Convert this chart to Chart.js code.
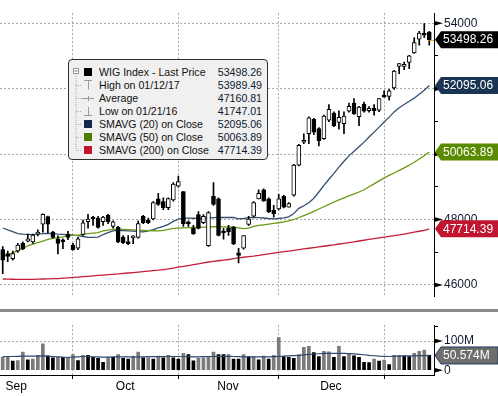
<!DOCTYPE html>
<html lang="en">
<head>
<meta charset="UTF-8" />
<title>WIG Index - Last Price</title>
<script src="https://cdn.jsdelivr.net/npm/chart.js"></script>
<style>
  html, body { margin: 0; padding: 0; background: #fff; }
  #wrap { position: relative; width: 498px; height: 396px; overflow: hidden; background: #fff; font-family: 'Liberation Sans', Arial, sans-serif; }
  #priceChart { position: absolute; left: 0; top: 0; }
  #volChart { position: absolute; left: 0; top: 312px; }
  #sep { position: absolute; left: 0; top: 309px; width: 498px; height: 3px; background: #8c8c8c; }
  #legend { position: absolute; left: 68px; top: 59px; width: 198px; height: 99px; background: #f0f0f0; border: 1px solid #2e2e2e; border-radius: 4px; }
  #legend svg { position: absolute; left: 0; top: 0; }
  .lname, .lval { position: absolute; height: 13px; line-height: 13px; font-size: 10.6px; white-space: nowrap; }
  .lname { left: 30px; color: #111; }
  .lval { right: 5px; color: #0d1a30; }
  .sw { position: absolute; left: 15px; width: 8px; height: 8px; }
</style>
</head>
<body>
<div id="wrap">
  <canvas id="priceChart" width="498" height="310"></canvas>
  <div id="sep"></div>
  <canvas id="volChart" width="498" height="84"></canvas>

  <div id="legend">
    <svg width="198" height="99">
      <rect x="4.5" y="8.5" width="5" height="5" fill="#fff" stroke="#9a9a9a" />
      <line x1="5.5" y1="11" x2="8.5" y2="11" stroke="#777" />
      <line x1="7" y1="14" x2="7" y2="90" stroke="#aaa" stroke-dasharray="1,1" />
      <line x1="7" y1="25.5" x2="13" y2="25.5" stroke="#aaa" stroke-dasharray="1,1" />
      <line x1="7" y1="38.5" x2="13" y2="38.5" stroke="#aaa" stroke-dasharray="1,1" />
      <line x1="7" y1="51.5" x2="13" y2="51.5" stroke="#aaa" stroke-dasharray="1,1" />
      <line x1="7" y1="64.5" x2="13" y2="64.5" stroke="#aaa" stroke-dasharray="1,1" />
      <line x1="7" y1="77.5" x2="13" y2="77.5" stroke="#aaa" stroke-dasharray="1,1" />
      <line x1="7" y1="90.5" x2="13" y2="90.5" stroke="#aaa" stroke-dasharray="1,1" />
      <!-- high / average / low icons -->
      <line x1="15" y1="20.5" x2="23" y2="20.5" stroke="#9a9a9a" />
      <line x1="19.5" y1="20.5" x2="19.5" y2="29.5" stroke="#9a9a9a" />
      <line x1="13" y1="38.5" x2="25" y2="38.5" stroke="#9a9a9a" />
      <line x1="19.5" y1="36" x2="19.5" y2="41" stroke="#9a9a9a" />
      <line x1="19.5" y1="47" x2="19.5" y2="55.5" stroke="#9a9a9a" />
      <line x1="15" y1="55.5" x2="23" y2="55.5" stroke="#9a9a9a" />
    </svg>
    <div class="sw" style="top:8px;background:#000"></div>
    <div class="sw" style="top:60px;background:#13294b"></div>
    <div class="sw" style="top:73px;background:#4d7d00"></div>
    <div class="sw" style="top:86px;background:#c0162f"></div>

    <div class="lname" style="top:5.5px">WIG Index - Last Price</div><div class="lval" style="top:5.5px">53498.26</div>
    <div class="lname" style="top:18.5px">High on 01/12/17</div><div class="lval" style="top:18.5px">53989.49</div>
    <div class="lname" style="top:31.5px">Average</div><div class="lval" style="top:31.5px">47160.81</div>
    <div class="lname" style="top:44.5px">Low on 01/21/16</div><div class="lval" style="top:44.5px">41747.01</div>
    <div class="lname" style="top:57.5px">SMAVG (20) on Close</div><div class="lval" style="top:57.5px">52095.06</div>
    <div class="lname" style="top:70.5px">SMAVG (50) on Close</div><div class="lval" style="top:70.5px">50063.89</div>
    <div class="lname" style="top:83.5px">SMAVG (200) on Close</div><div class="lval" style="top:83.5px">47714.39</div>
  </div>
</div>

<script>
  // --- data (one value per trading day) ---
  const priceOpen = [47080,46960,46800,47035,47270,47335,47315,47550,47855,48090,
    47615,47405,47340,47545,47220,47125,47540,47930,48070,48040,
    47930,48125,47790,47760,47455,47315,47440,47455,48100,47985,
    48015,48630,48550,48360,48600,49020,48850,47900,47730,48150,
    47900,47200,48710,48630,47620,47730,47760,46980,47120,47850,
    48100,48630,48910,48630,48290,48320,48710,48380,48740,49660,
    50360,50620,51060,50780,50470,51040,51250,50970,50930,51310,
    51560,51140,51530,51330,51400,51340,51790,51760,52020,52680,
    52680,52800,53095,53515,53700,53730];
  const priceHigh = [47175,47035,47035,47270,47315,47550,47550,47680,48175,48105,
    47640,47500,47405,47640,47270,47455,47985,48155,48100,48100,
    48100,48155,47960,47790,47510,47510,47510,47960,48125,48040,
    48545,48800,48660,48660,49130,49330,48850,47960,47820,48240,
    48150,48240,49130,48660,47730,47820,47790,47120,47510,48100,
    48550,48910,48940,48660,48430,48770,48740,48520,49690,50300,
    50620,51140,51090,50810,51190,51510,51290,51320,51290,51560,
    51700,51460,51590,51450,51510,51700,51930,51980,52560,52770,
    52815,53020,53560,53750,53989.49,53750];
  const priceLow = [46340,46710,46755,46990,47080,47315,47270,47500,47615,47595,
    47425,46945,47110,47380,47060,47080,47510,47735,47820,47735,
    47820,47875,47735,47290,47260,47230,47260,47425,47875,47875,
    47985,48430,48300,48300,48560,48990,47790,47790,47540,47710,
    47870,47180,48430,47500,47400,47510,47230,46670,47090,47820,
    48070,48630,48550,48210,48070,48290,48350,48380,48710,49640,
    50320,50320,50590,50250,50450,50990,50840,50760,50620,51280,
    51210,50870,51280,51280,51190,51300,51740,51650,51980,52460,
    52580,52610,53075,53330,53560,53330];
  const priceClose = [46755,46870,46960,47220,47110,47405,47520,47615,48155,47855,
    47455,47270,47320,47455,47080,47405,47900,48015,48015,47760,
    48070,47930,47930,47315,47290,47260,47470,47875,47900,47900,
    48520,48460,48360,48640,49080,49160,47870,47870,47570,47730,
    48100,48210,48460,47510,47590,47620,47250,46900,47510,48010,
    48520,48800,48570,48240,48180,48630,48380,48490,49660,50270,
    50380,51110,50670,50410,51160,51370,50860,51120,51160,51460,
    51230,51440,51310,51400,51330,51700,51740,51930,52540,52770,
    52740,53000,53405,53700,53635,53498.26];

  const sma20 = [47740,47680,47630,47570,47550,47545,47540,47550,47565,47575,
    47570,47555,47545,47535,47520,47505,47480,47455,47455,47460,
    47540,47600,47650,47668,47660,47650,47642,47630,47622,47650,
    47690,47740,47790,47850,47940,48010,48040,48040,48037,48035,
    48040,48050,48058,48061,48061,48061,48060,48020,48030,48058,
    48060,48055,48045,48030,48020,48030,48050,48080,48180,48340,
    48420,48510,48650,48840,49040,49230,49410,49600,49780,49945,
    50085,50225,50365,50520,50670,50825,50980,51130,51290,51415,
    51515,51615,51710,51830,51950,52095.06];
  const sma50 = [46880,46920,46980,47050,47115,47190,47245,47295,47340,47390,
    47425,47445,47470,47505,47512,47518,47545,47565,47585,47600,
    47650,47675,47690,47702,47700,47690,47680,47672,47668,47660,
    47655,47650,47670,47700,47725,47735,47742,47748,47755,47760,
    47765,47772,47778,47780,47776,47770,47762,47745,47720,47735,
    47790,47820,47838,47858,47880,47900,47930,47960,48000,48060,
    48120,48180,48250,48320,48390,48460,48535,48600,48660,48720,
    48780,48840,48910,49000,49090,49180,49270,49350,49420,49500,
    49580,49660,49750,49850,49950,50063.89];
  const sma200 = [46180,46175,46172,46170,46168,46168,46170,46175,46180,46185,
    46190,46194,46205,46215,46228,46240,46250,46263,46276,46290,
    46300,46312,46324,46334,46350,46363,46377,46390,46405,46420,
    46437,46450,46470,46490,46515,46540,46565,46590,46618,46645,
    46672,46700,46718,46738,46758,46776,46806,46825,46845,46864,
    46880,46900,46924,46946,46970,46993,47015,47035,47056,47078,
    47100,47120,47140,47160,47182,47205,47225,47250,47272,47295,
    47318,47342,47365,47390,47412,47435,47458,47482,47505,47528,
    47555,47585,47613,47640,47668,47714.39];

  // volume in millions; volUp: 1 = grey bar, 0 = black bar
  const volume = [44,46.5,31,33,62,36,38,51,90,49,
    42.6,44.5,44.5,44.5,54,33,51,51,44.5,40.6,
    27,44.5,44.5,54,40.6,38,48.4,62,42.6,42.6,
    38,48.4,42.6,51,42.6,38,58,54,32,40.6,
    42.6,46.5,62,54,54,54,38,38,54,46.5,
    46.5,36,48.4,38,51,111.7,46.5,44.5,40.6,54,
    78.6,81.5,60,46.5,65,63,44.5,81.5,46.5,58,
    49,44.5,27,26,38,31,35,19,51,51,
    48.4,46.5,58,65,69,51];
  const volUp = [1,1,0,1,1,0,1,1,1,0,
    0,1,0,1,1,0,1,0,0,0,
    0,1,0,1,0,0,1,1,0,1,
    0,1,0,1,0,0,1,0,0,1,
    1,1,1,0,0,1,0,0,1,0,
    1,0,1,0,1,1,0,0,0,1,
    1,1,0,0,1,1,0,1,0,1,
    0,0,0,0,1,0,1,0,1,1,
    0,0,1,1,1,0];
  const volSma = [47,47,47,47.5,48,48,48,48.5,49,48,
    47,46,45,44.5,45,46,47,47,46,45.5,
    45,45,45.5,46,46,45.5,45,45.5,46,46.5,
    46.5,46.5,46.5,47,47,47,47,46.5,46,46,
    46.5,47,47,47.5,47.5,47.5,47,46.5,46,45.5,
    45.5,45.5,46,46,46.5,47,48,49,50,51,
    52.5,54,55.5,56.5,57.5,58,58,58,57.5,57,
    56,54.5,53,51,49.5,48,47.5,47,48,48.5,
    49,49,49.5,50,50.3,50.574];

  // axis ticks
  const monthStarts = [14, 35, 55, 76];           // first trading day of Oct, Nov, Dec, Jan
  const monthLabels = ['Sep', 'Oct', 'Nov', 'Dec'];
  const monthLabelPos = [2.7, 24.4, 44.9, 65.4];
  const priceTicks = [46000, 47000, 48000, 49000, 50000, 51000, 52000, 53000, 54000];
  const volTicks = [0, 50, 100, 150];

  const FONT = "'Liberation Sans', Arial, sans-serif";
  const GRID = '#a8a8a8';
  const X_MIN = -0.54, X_MAX = 85.94;
  const last = priceClose.length - 1;

  function drawTag(ctx, left, y, fill, text, stroke) {
    ctx.save();
    ctx.beginPath();
    ctx.moveTo(left + 1, y);
    ctx.lineTo(left + 7, y - 8.5);
    ctx.lineTo(498, y - 8.5);
    ctx.lineTo(498, y + 8.5);
    ctx.lineTo(left + 7, y + 8.5);
    ctx.closePath();
    ctx.fillStyle = fill;
    ctx.fill();
    if (stroke) {
      ctx.strokeStyle = stroke;
      ctx.lineWidth = 1;
      ctx.stroke();
    }
    ctx.fillStyle = '#fff';
    ctx.font = '12px ' + FONT;
    ctx.textBaseline = 'middle';
    ctx.fillText(text, left + 9, y + 0.5);
    ctx.restore();
  }

  function drawArrow(ctx, x, y) {
    ctx.beginPath();
    ctx.moveTo(x, y - 2.5);
    ctx.lineTo(x + 9, y);
    ctx.lineTo(x, y + 2.5);
    ctx.closePath();
    ctx.fill();
  }

  const priceDecor = {
    id: 'priceDecor',
    afterDatasetsDraw(chart) {
      const {ctx, chartArea, scales} = chart;
      const y = scales.y.getPixelForValue(priceClose[last]);
      ctx.save();
      ctx.strokeStyle = '#f0a030';
      ctx.beginPath();
      ctx.moveTo(scales.x.getPixelForValue(last), Math.round(y) + 0.5);
      ctx.lineTo(chartArea.right, Math.round(y) + 0.5);
      ctx.stroke();
      ctx.restore();
    },
    afterDraw(chart) {
      const {ctx, chartArea, scales} = chart;
      const left = chartArea.right;
      ctx.save();
      ctx.fillStyle = '#000';
      priceTicks.filter(v => v % 2000 === 0).forEach(v => drawArrow(ctx, left, scales.y.getPixelForValue(v)));
      ctx.restore();
      drawTag(ctx, left, scales.y.getPixelForValue(sma200[last]), '#c0162f', sma200[last].toFixed(2));
      drawTag(ctx, left, scales.y.getPixelForValue(sma50[last]), '#5a8a00', sma50[last].toFixed(2));
      drawTag(ctx, left, scales.y.getPixelForValue(sma20[last]), '#1b3453', sma20[last].toFixed(2));
      drawTag(ctx, left, scales.y.getPixelForValue(priceClose[last]), '#000', priceClose[last].toFixed(2));
    }
  };

  const volDecor = {
    id: 'volDecor',
    afterDraw(chart) {
      const {ctx, chartArea, scales} = chart;
      const left = chartArea.right;
      ctx.save();
      ctx.fillStyle = '#000';
      [0, 100].forEach(v => drawArrow(ctx, left, scales.y.getPixelForValue(v)));
      ctx.restore();
      drawTag(ctx, left, scales.y.getPixelForValue(volSma[last]), '#6e6e6e', volSma[last].toFixed(3) + 'M', '#1f3a5f');
    }
  };

  const xy = arr => arr.map((v, i) => ({x: i, y: v}));

  new Chart(document.getElementById('priceChart'), {
    type: 'bar',
    data: {
      datasets: [
        { type: 'line', data: xy(sma200), borderColor: '#c41f38', borderWidth: 1.3, pointRadius: 0, order: 3 },
        { type: 'line', data: xy(sma50), borderColor: '#6a9b14', borderWidth: 1.3, pointRadius: 0, order: 3 },
        { type: 'line', data: xy(sma20), borderColor: '#34506f', borderWidth: 1.3, pointRadius: 0, order: 3 },
        {
          data: priceLow.map((l, i) => ({x: i, y: [l, priceHigh[i]]})),
          backgroundColor: '#000', barThickness: 1, grouped: false, order: 2
        },
        {
          data: priceOpen.map((o, i) => ({x: i, y: [o, priceClose[i]]})),
          backgroundColor: priceOpen.map((o, i) => priceClose[i] > o ? '#fff' : '#000'),
          borderColor: '#000', borderWidth: 1, borderSkipped: false,
          barThickness: 4, minBarLength: 2, grouped: false, order: 1
        }
      ]
    },
    options: {
      responsive: false,
      animation: false,
      devicePixelRatio: 1,
      layout: { padding: 0 },
      plugins: { legend: { display: false }, tooltip: { enabled: false } },
      scales: {
        x: {
          type: 'linear', min: X_MIN, max: X_MAX, offset: false,
          afterBuildTicks: s => { s.ticks = monthStarts.map(v => ({value: v})); },
          ticks: { display: false, autoSkip: false },
          grid: { color: GRID, drawTicks: false, offset: false },
          border: { display: false, dash: [2, 2] },
          afterFit: s => { s.height = 0; }
        },
        y: {
          position: 'right', min: 45636, max: 54307,
          afterBuildTicks: s => { s.ticks = priceTicks.map(v => ({value: v})); },
          ticks: {
            autoSkip: false, padding: 6, color: '#0f1a2e',
            font: { family: FONT, size: 12 },
            callback: v => (v % 2000 === 0 ? String(v) : '')
          },
          grid: {
            color: c => (c.tick && c.tick.value % 2000 === 0 ? GRID : 'rgba(0,0,0,0)'),
            tickColor: c => (c.tick && c.tick.value % 2000 === 0 ? 'rgba(0,0,0,0)' : '#000'),
            tickLength: 4, tickBorderDash: []
          },
          border: { display: true, color: '#000', dash: [2, 2] },
          afterFit: s => { s.width = 64; }
        }
      }
    },
    plugins: [priceDecor]
  });

  new Chart(document.getElementById('volChart'), {
    type: 'bar',
    data: {
      datasets: [
        { type: 'line', data: xy(volSma), borderColor: '#2a4a6e', borderWidth: 1.2, pointRadius: 0, order: 1 },
        {
          data: xy(volume),
          backgroundColor: volUp.map(u => (u ? '#7b7b7b' : '#000')),
          barThickness: 3, grouped: false, order: 2
        }
      ]
    },
    options: {
      responsive: false,
      animation: false,
      devicePixelRatio: 1,
      layout: { padding: 0 },
      plugins: { legend: { display: false }, tooltip: { enabled: false } },
      scales: {
        x: {
          type: 'linear', min: X_MIN, max: X_MAX, offset: false, weight: 0,
          afterBuildTicks: s => { s.ticks = monthStarts.map(v => ({value: v})); },
          ticks: { display: false, autoSkip: false },
          grid: { color: GRID, tickColor: '#000', tickLength: 4, tickBorderDash: [], offset: false },
          border: { display: true, color: '#000', dash: [2, 2] },
          afterFit: s => { s.height = 4; }
        },
        x2: {
          type: 'linear', position: 'bottom', min: X_MIN, max: X_MAX, offset: false, weight: 1,
          afterBuildTicks: s => { s.ticks = monthLabelPos.map(v => ({value: v})); },
          ticks: {
            autoSkip: false, maxRotation: 0, padding: 0, color: '#000',
            font: { family: FONT, size: 12 },
            callback: (v, i) => monthLabels[i]
          },
          grid: { display: false, drawTicks: false },
          border: { display: false },
          afterFit: s => { s.height = 17; }
        },
        y: {
          position: 'right', min: -16.2, max: 154,
          afterBuildTicks: s => { s.ticks = volTicks.map(v => ({value: v})); },
          ticks: {
            autoSkip: false, padding: 6, color: '#0f1a2e',
            font: { family: FONT, size: 12 },
            callback: v => (v === 0 ? '0' : v === 100 ? '100M' : '')
          },
          grid: {
            color: c => (c.tick && c.tick.value === 100 ? GRID : 'rgba(0,0,0,0)'),
            tickColor: c => (c.tick && (c.tick.value === 50 || c.tick.value === 150) ? '#000' : 'rgba(0,0,0,0)'),
            tickLength: 4, tickBorderDash: []
          },
          border: { display: true, color: '#000', dash: [2, 2] },
          afterFit: s => { s.width = 64; }
        }
      }
    },
    plugins: [volDecor]
  });
</script>
</body>
</html>
